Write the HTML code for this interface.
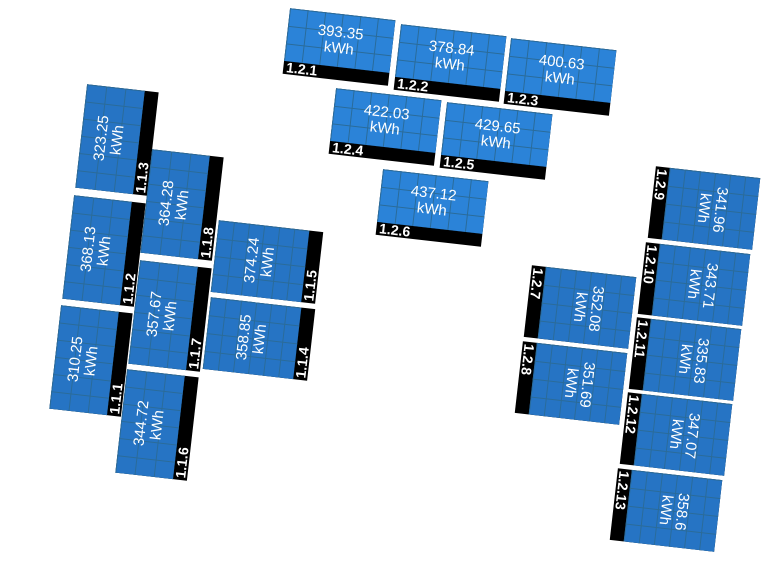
<!DOCTYPE html>
<html><head><meta charset="utf-8"><style>
body{margin:0;width:773px;height:564px;background:#fff;position:relative;overflow:hidden;font-family:"Liberation Sans",sans-serif}
.p{position:absolute;transform:translate(-50%,-50%) rotate(6.5deg);background:#000}
.b{position:absolute;background-color:#2b83d8;display:flex;align-items:center;justify-content:center;color:#fff;font-size:15px;line-height:16px;text-align:center}
.s .b{background-color:#2674c4}
.l{position:absolute;color:#fff;font-weight:bold;font-size:14px;line-height:14px;white-space:nowrap}
.t{width:106px;height:66px}
.t .b{left:0;top:0;width:106px;height:53px;background-image:linear-gradient(90deg,#2a6b99 1px,transparent 1px),linear-gradient(#2a6b99 1px,transparent 1px);background-size:17.7px 17.7px}
.t .l{left:3px;bottom:0}
.v{width:72px;height:104px}
.v .b{left:0;top:0;width:58px;height:104px;background-image:linear-gradient(90deg,#2a6b99 1px,transparent 1px),linear-gradient(#2a6b99 1px,transparent 1px);background-size:19.3px 17.3px}
.h{width:105px;height:72px}
.hl .b{left:0;top:0;width:91px;height:72px}
.hr .b{left:14px;top:0;width:91px;height:72px}
.h .b{background-image:linear-gradient(90deg,#2a6b99 1px,transparent 1px),linear-gradient(#2a6b99 1px,transparent 1px);background-size:15.2px 18px}
.rl span{transform:rotate(-90deg)}
.rr span{transform:rotate(90deg)}
.v .l,.hl .l{right:0;bottom:2px;width:14px;writing-mode:vertical-rl;transform:rotate(180deg)}
.hr .l{left:0;top:2px;width:14px;writing-mode:vertical-rl}
.b span{display:block;white-space:nowrap}
</style></head><body>
<div class="p t" style="left:339px;top:47px"><div class="b">393.35<br>kWh</div><div class="l">1.2.1</div></div>
<div class="p t" style="left:450px;top:63px"><div class="b">378.84<br>kWh</div><div class="l">1.2.2</div></div>
<div class="p t" style="left:560px;top:77px"><div class="b">400.63<br>kWh</div><div class="l">1.2.3</div></div>
<div class="p t" style="left:385px;top:127px"><div class="b">422.03<br>kWh</div><div class="l">1.2.4</div></div>
<div class="p t" style="left:496px;top:141px"><div class="b">429.65<br>kWh</div><div class="l">1.2.5</div></div>
<div class="p t" style="left:432px;top:208px"><div class="b">437.12<br>kWh</div><div class="l">1.2.6</div></div>

<div class="p v s rl" style="left:117px;top:140px"><div class="b"><span>323.25<br>kWh</span></div><div class="l">1.1.3</div></div>
<div class="p v s rl" style="left:104px;top:251px"><div class="b"><span>368.13<br>kWh</span></div><div class="l">1.1.2</div></div>
<div class="p v s rl" style="left:91px;top:361px"><div class="b"><span>310.25<br>kWh</span></div><div class="l">1.1.1</div></div>
<div class="p v s rl" style="left:182px;top:205px"><div class="b"><span>364.28<br>kWh</span></div><div class="l">1.1.8</div></div>
<div class="p v s rl" style="left:170px;top:316px"><div class="b"><span>357.67<br>kWh</span></div><div class="l">1.1.7</div></div>
<div class="p v s rl" style="left:157px;top:425px"><div class="b"><span>344.72<br>kWh</span></div><div class="l">1.1.6</div></div>
<div class="p h hl s rl" style="left:267px;top:262px"><div class="b"><span>374.24<br>kWh</span></div><div class="l">1.1.5</div></div>
<div class="p h hl s rl" style="left:259px;top:339px"><div class="b"><span>358.85<br>kWh</span></div><div class="l">1.1.4</div></div>

<div class="p h hr s rr" style="left:704px;top:208px"><div class="b"><span>341.96<br>kWh</span></div><div class="l">1.2.9</div></div>
<div class="p h hr s rr" style="left:694px;top:284px"><div class="b"><span>343.71<br>kWh</span></div><div class="l">1.2.10</div></div>
<div class="p h hr s rr" style="left:685px;top:359px"><div class="b"><span>335.83<br>kWh</span></div><div class="l">1.2.11</div></div>
<div class="p h hr s rr" style="left:676px;top:434px"><div class="b"><span>347.07<br>kWh</span></div><div class="l">1.2.12</div></div>
<div class="p h hr s rr" style="left:666px;top:510px"><div class="b"><span>358.6<br>kWh</span></div><div class="l">1.2.13</div></div>
<div class="p h hr s rr" style="left:580px;top:307px"><div class="b"><span>352.08<br>kWh</span></div><div class="l">1.2.7</div></div>
<div class="p h hr s rr" style="left:571px;top:383px"><div class="b"><span>351.69<br>kWh</span></div><div class="l">1.2.8</div></div>
</body></html>
